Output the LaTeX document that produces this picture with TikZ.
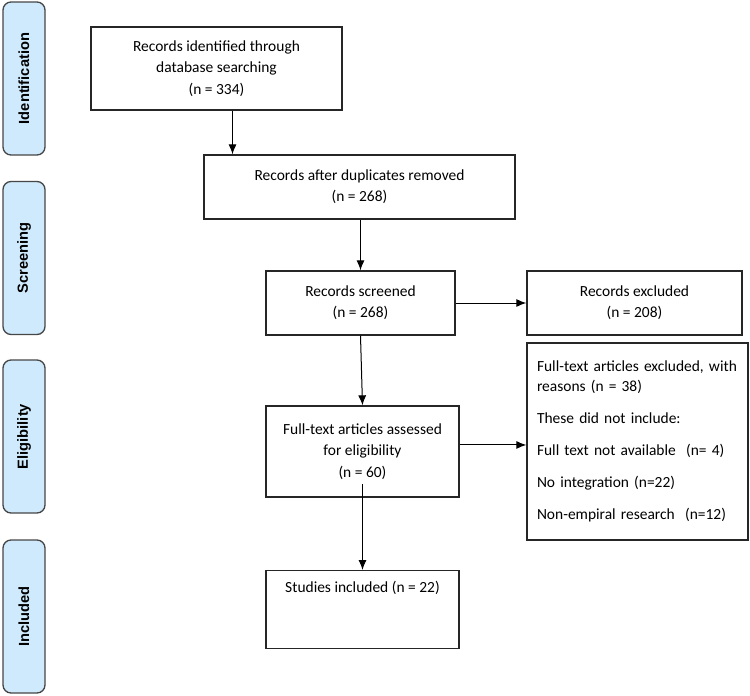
\documentclass[tikz,border=0pt]{standalone}
\usepackage{fontspec}
\setmainfont{Carlito}
\newfontfamily\stagefont{Liberation Sans}
\usepackage{tikz}
\usetikzlibrary{arrows.meta,positioning}
\definecolor{stagefill}{RGB}{207,234,252}
\definecolor{stageline}{RGB}{70,70,70}
\tikzset{
    %Define standard arrow tip
    >={Latex[length=7.5pt,width=6pt]},
    %Define style for side bars
    stagebar/.style={
           rectangle,
           rounded corners=6pt,
           draw=stageline, line width=1pt,
           fill=stagefill,
           minimum width=31.5pt,
           minimum height=114.75pt,
           font=\stagefont\bfseries\fontsize{11}{13}\selectfont},
    %Define style for boxes
    record/.style={
           rectangle,
           draw=black!85, line width=1pt,
           minimum height=48pt,
           inner sep=0pt,
           align=center,
           font=\fontsize{11.6}{16}\selectfont},
    % Define arrow style
    pil/.style={
           ->,
           line width=0.75pt}
}
\begin{document}
\begin{tikzpicture}[x=0.75pt,y=-0.75pt]
\useasboundingbox (0,0) rectangle (750,696);
% side bars
\node[stagebar] (sIdent) at (24,78.5) {\rotatebox{90}{Identification}};
\node[stagebar] (sScreen) at (24,258) {\rotatebox{90}{Screening}};
\node[stagebar] (sElig) at (24,436.5) {\rotatebox{90}{Eligibility}};
\node[stagebar] (sIncl) at (24,616.5) {\rotatebox{90}{Included}};
% boxes
\node[record, minimum width=188.25pt, minimum height=62.25pt] (ident) at (216.5,68.5)
    {Records identified through\\database searching\\(n = 334)};
\node[record, minimum width=233.25pt] (dup) at (359.5,187)
    {Records after duplicates removed\\(n = 268)};
\node[record, minimum width=141.75pt] (screened) at (360.5,303)
    {Records screened\\(n = 268)};
\node[record, minimum width=161.25pt] (excl) at (634.5,303)
    {Records excluded\\(n = 208)};
\node[record, minimum width=165.75pt, minimum height=147.75pt, align=left,
      text width=150.75pt, font=\fontsize{11.6}{15}\selectfont] (ftexcl) at (637.5,441.5)
    {Full-text articles excluded, with\\reasons (n = 38)\\[9pt]
     These did not include:\\[9pt]
     Full text not available~ (n= 4)\\[9pt]
     No integration (n=22)\\[9pt]
     Non-empiral research~ (n=12)};
\node[record, minimum width=144.75pt, minimum height=68.25pt] (assessed) at (362.5,451.5)
    {Full-text articles assessed\\for eligibility\\(n = 60)};
\node[record, minimum width=144.75pt, minimum height=0pt, anchor=north,
      inner ysep=7.5pt, text height=9pt, text depth=34.5pt] (incl) at (362.5,570)
    {Studies included (n = 22)};
% connectors
\draw[pil] ([xshift=12pt]ident.south) -- ([xshift=12pt]ident.south |- dup.north);
\draw[pil] (screened.north |- dup.south) -- (screened.north);
\path[pil]
    (screened) edge (excl)
    (screened.south) edge (assessed.north);
\draw[pil] ([yshift=4.9pt]assessed.east) -- ([yshift=4.9pt]assessed.east -| ftexcl.west);
\draw[pil, shorten <=-10pt] (assessed.south) -- (incl.north);
\end{tikzpicture}
\end{document}
